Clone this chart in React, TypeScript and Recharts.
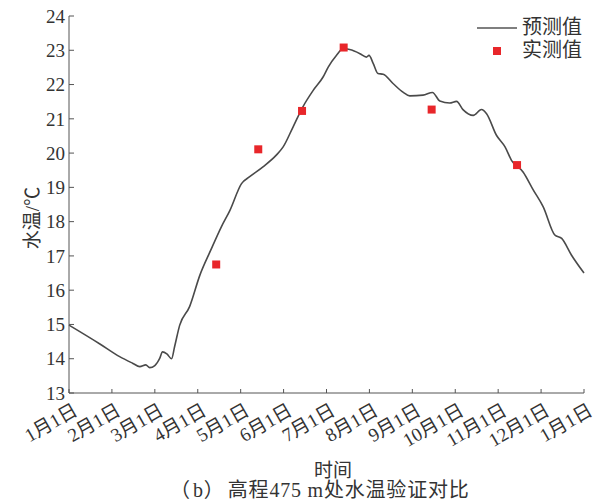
import { ComposedChart, Line, Scatter, XAxis, YAxis, Legend } from "recharts";

// x axis in months since 1 Jan (0..12)
const monthTicks = [0, 1, 2, 3, 4, 5, 6, 7, 8, 9, 10, 11, 12];
const monthLabels = [
  "1月1日", "2月1日", "3月1日", "4月1日", "5月1日", "6月1日", "7月1日",
  "8月1日", "9月1日", "10月1日", "11月1日", "12月1日", "1月1日",
];
const tempTicks = [13, 14, 15, 16, 17, 18, 19, 20, 21, 22, 23, 24];

// 预测值 (simulated water temperature)
const predMonth = [
  0, 0.72, 1.18, 1.48, 1.65, 1.79, 1.88, 2.0, 2.11, 2.18, 2.28, 2.39, 2.46,
  2.58, 2.81, 3.05, 3.3, 3.55, 3.75, 4.02, 4.21, 4.52, 4.83, 4.99, 5.22,
  5.45, 5.69, 5.92, 6.04, 6.23, 6.39, 6.54, 6.78, 6.93, 6.99, 7.09, 7.2,
  7.32, 7.55, 7.79, 7.94, 8.25, 8.47, 8.64, 8.87, 9.03, 9.18, 9.42, 9.61,
  9.73, 9.96, 10.16, 10.31, 10.58, 10.82, 11.05, 11.32, 11.48, 11.71, 12.0,
];
const predTemp = [
  14.98, 14.43, 14.06, 13.87, 13.77, 13.82, 13.74, 13.8, 14.0, 14.2, 14.14,
  14.0, 14.35, 14.98, 15.52, 16.44, 17.16, 17.85, 18.33, 19.11, 19.31, 19.6,
  19.94, 20.18, 20.76, 21.35, 21.83, 22.22, 22.51, 22.85, 23.05, 23.02, 22.9,
  22.8, 22.85, 22.61, 22.32, 22.3, 22.03, 21.77, 21.67, 21.69, 21.77, 21.52,
  21.46, 21.51, 21.27, 21.1, 21.27, 21.15, 20.52, 20.18, 19.79, 19.45, 18.92,
  18.43, 17.61, 17.51, 17.02, 16.5,
];

// 实测值 (measured)
const measMonth = [3.43, 4.41, 5.43, 6.4, 8.45, 10.44];
const measTemp = [16.75, 20.11, 21.23, 23.08, 21.27, 19.65];

const predData = predMonth.map((m, i) => ({ m, t: predTemp[i] }));
const measData = measMonth.map((m, i) => ({ m, t: measTemp[i] }));

const FONT = "'Liberation Serif', 'Noto Sans CJK SC', serif";
const TEXT = "#333";
const AXIS = "#555";

function MonthTick(props: any) {
  const { x, y, payload } = props;
  return (
    <g transform={`translate(${x + 10},${y + 21})`}>
      <text
        textAnchor="end"
        transform="rotate(-30)"
        fontSize={19}
        fontFamily={FONT}
        fill={TEXT}
      >
        {monthLabels[payload.value]}
      </text>
    </g>
  );
}

function LegendBox() {
  return (
    <div style={{ fontFamily: FONT, fontSize: 20, color: TEXT, lineHeight: "23px" }}>
      <div style={{ display: "flex", alignItems: "center" }}>
        <svg width={40} height={10}>
          <line x1={0} y1={5} x2={40} y2={5} stroke={AXIS} strokeWidth={1.5} />
        </svg>
        <span style={{ marginLeft: 5 }}>预测值</span>
      </div>
      <div style={{ display: "flex", alignItems: "center" }}>
        <svg width={40} height={10}>
          <rect x={16} y={1} width={8} height={8} fill="#e8262a" />
        </svg>
        <span style={{ marginLeft: 5 }}>实测值</span>
      </div>
    </div>
  );
}

export default function App() {
  return (
    <div style={{ position: "absolute", left: 0, top: 0, width: 598, height: 503, background: "#fff" }}>
      <ComposedChart
        width={598}
        height={503}
        margin={{ top: 16, right: 14, bottom: 0, left: 0 }}
      >
        <XAxis
          type="number"
          dataKey="m"
          domain={[0, 12]}
          ticks={monthTicks}
          interval={0}
          height={110}
          tickSize={-4}
          tickMargin={4}
          stroke={AXIS}
          tick={<MonthTick />}
        />
        <YAxis
          type="number"
          dataKey="t"
          domain={[13, 24]}
          ticks={tempTicks}
          interval={0}
          width={69}
          tickSize={-5}
          tickMargin={9}
          stroke={AXIS}
          tick={{ fontSize: 19, fontFamily: FONT, fill: TEXT }}
        />
        <Legend
          layout="vertical"
          align="center"
          verticalAlign="middle"
          content={<LegendBox />}
          wrapperStyle={{ top: 16, left: 477, width: 120 }}
        />
        <Line
          data={predData}
          dataKey="t"
          name="预测值"
          type="monotone"
          stroke="#4a4a4a"
          strokeWidth={1.6}
          dot={false}
          isAnimationActive={false}
        />
        <Scatter
          data={measData}
          dataKey="t"
          name="实测值"
          fill="#e8262a"
          isAnimationActive={false}
          shape={(p: any) => (
            <rect x={p.cx - 4} y={p.cy - 4} width={8} height={8} fill="#e8262a" />
          )}
        />
      </ComposedChart>
      <div
        style={{
          position: "absolute", left: 30, top: 218, transform: "translate(-50%,-50%) rotate(-90deg)",
          fontFamily: FONT, fontSize: 19, color: TEXT, whiteSpace: "nowrap",
        }}
      >
        水温/℃
      </div>
      <div
        style={{
          position: "absolute", left: 333, top: 468, transform: "translate(-50%,-50%)",
          fontFamily: FONT, fontSize: 19, color: TEXT, whiteSpace: "nowrap",
        }}
      >
        时间
      </div>
      <div
        style={{
          position: "absolute", left: 170, top: 478,
          fontFamily: FONT, fontSize: 20, letterSpacing: 0.8, lineHeight: "24px", color: TEXT, whiteSpace: "nowrap",
        }}
      >
        <span style={{ display: "inline-block", width: 23 }}>（</span>b
        <span style={{ display: "inline-block", width: 24 }}>）</span>高程475 m处水温验证对比
      </div>
    </div>
  );
}
